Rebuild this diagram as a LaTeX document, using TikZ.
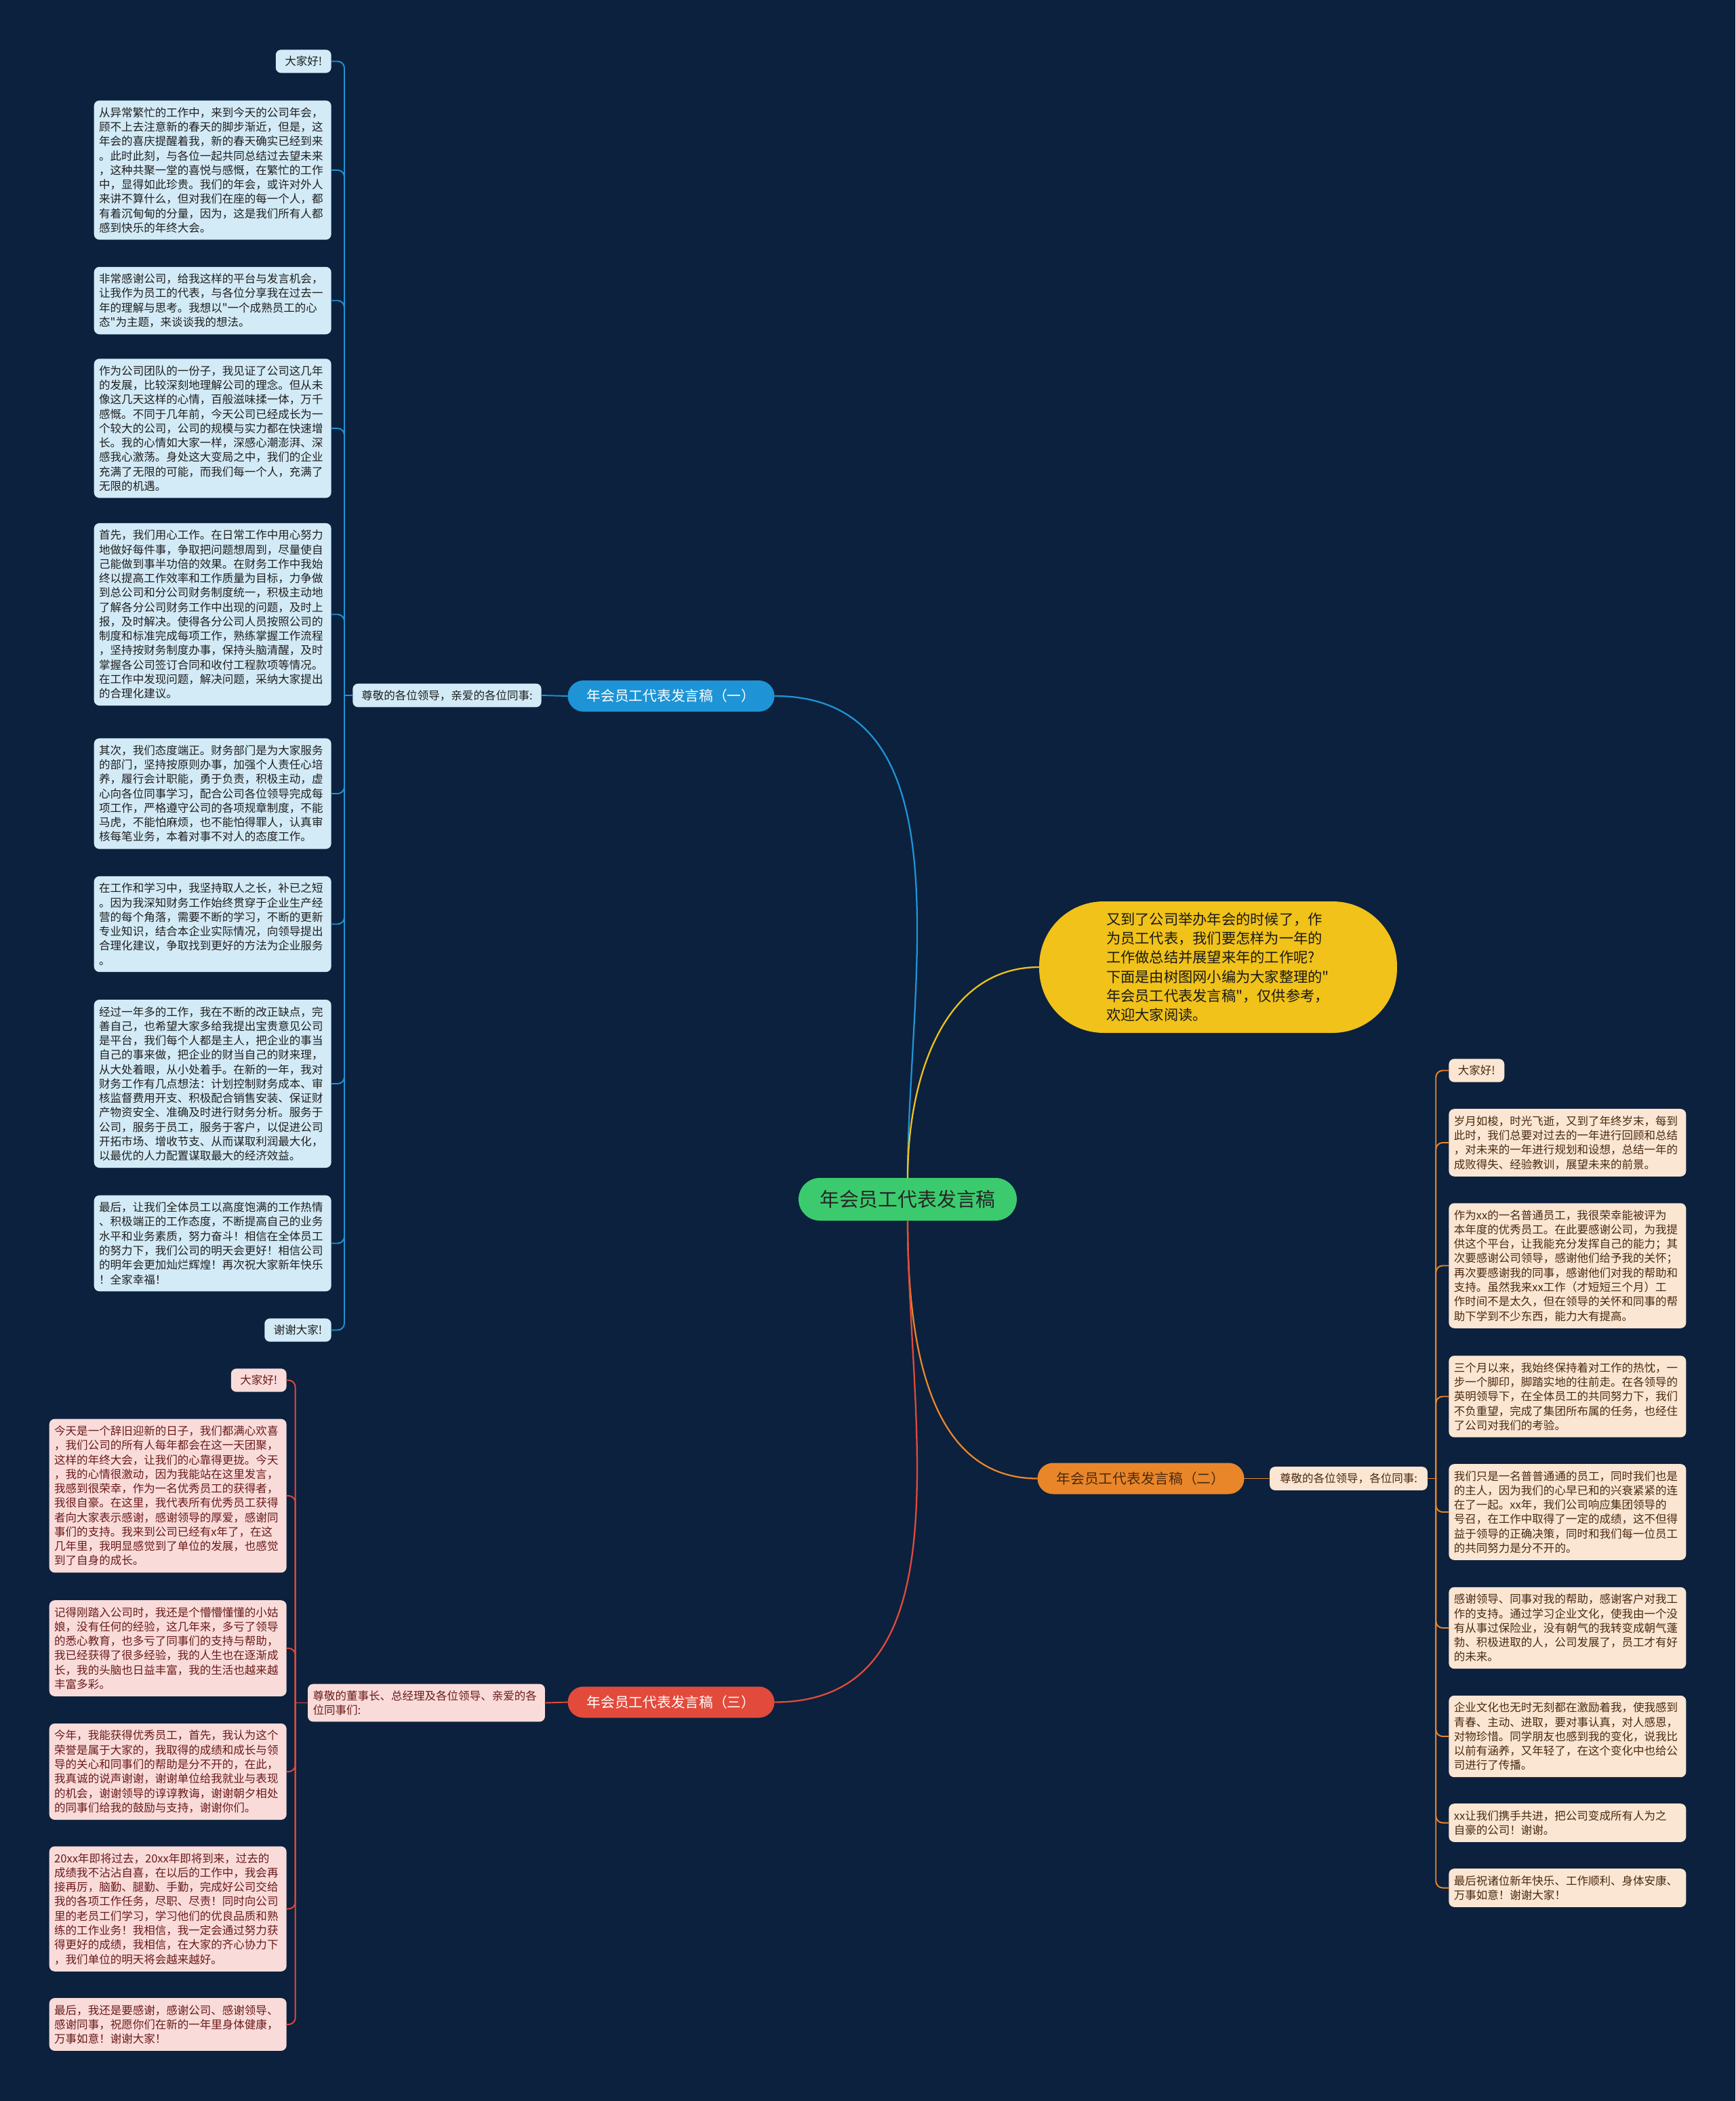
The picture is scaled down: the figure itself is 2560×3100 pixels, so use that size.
\documentclass[tikz,border=0pt]{standalone}
\usepackage{fontspec}
\setmainfont{Noto Sans CJK SC}[Ligatures=TeXOff]
\definecolor{bgc}{HTML}{0C213D}
\definecolor{bluebr}{HTML}{1E94D6}
\definecolor{bluebox}{HTML}{D3EBF7}
\definecolor{yel}{HTML}{F0C21A}
\definecolor{orgbr}{HTML}{E9862A}
\definecolor{orgbox}{HTML}{FBE6D3}
\definecolor{orgtxt}{HTML}{4A2A10}
\definecolor{redbr}{HTML}{E24A3B}
\definecolor{redbox}{HTML}{F9DCDA}
\definecolor{redtxt}{HTML}{6A1A1A}
\definecolor{grn}{HTML}{3BCB6E}
\newcommand\leaffont{\fontsize{9.4}{12.1}\selectfont}
\tikzset{
  leaf/.style={rounded corners=1.6mm, text width=6.7cm, align=left, inner xsep=0.15cm, inner ysep=0.2cm, font=\leaffont},
  hello/.style={rounded corners=1.6mm, inner xsep=0.27cm, inner ysep=0.19cm, font=\leaffont},
  lbl/.style={rounded corners=1.6mm, inner xsep=0.26cm, inner ysep=0.19cm, font=\leaffont},
  branch/.style={rounded corners=0.46cm, minimum width=6.1cm, minimum height=0.92cm, font=\fontsize{11.8}{14}\selectfont},
  blueb/.style={fill=bluebox, text=black!88},
  orgb/.style={fill=orgbox, text=orgtxt},
  redb/.style={fill=redbox, text=redtxt},
  link/.style={line width=1.1pt}
}
\begin{document}
\begin{tikzpicture}[x=0.02cm, y=-0.02cm, line join=round, line cap=round]
\useasboundingbox (0,0) rectangle (2560,3100);
\fill[bgc] (0,0) rectangle (2560,3100);
% centre and main branches
\node[fill=grn, text=black!85, rounded corners=0.63cm, minimum width=6.44cm, minimum height=1.26cm, font=\fontsize{16.4}{19}\selectfont] (ctr) at (1339,1769.5) {年会员工代表发言稿};
\node[branch, fill=bluebr, text=white] (br1) at (990,1027) {年会员工代表发言稿（一）};
\node[branch, fill=orgbr, text=orgtxt] (br2) at (1683,2181.5) {年会员工代表发言稿（二）};
\node[branch, fill=redbr, text=white] (br3) at (990,2511.5) {年会员工代表发言稿（三）};
\node[fill=yel, text=black!90, rounded corners=1.9cm, minimum width=10.56cm, minimum height=3.88cm, text width=6.6cm, align=left, font=\fontsize{12.1}{16.1}\selectfont] (intro) at (1797,1427) {又到了公司举办年会的时候了，作\\为员工代表，我们要怎样为一年的\\工作做总结并展望来年的工作呢?\\下面是由树图网小编为大家整理的"\\年会员工代表发言稿"，仅供参考，\\欢迎大家阅读。};
\draw[link, line width=1.3pt, bluebr] (ctr.north) to[out=90, in=0] (br1.east);
\draw[link, line width=1.3pt, yel] (ctr.north) to[out=90, in=180] (intro.west);
\draw[link, line width=1.3pt, orgbr] (ctr.south) to[out=-90, in=180] (br2.west);
\draw[link, line width=1.3pt, redbr] (ctr.south) to[out=-90, in=0] (br3.east);
% branch one
\node[lbl, blueb] (lbl1) at (659.5,1026) {尊敬的各位领导，亲爱的各位同事:};
\node[hello, blueb, anchor=east] (hi1) at (489,90.5) {大家好!};
\node[leaf, blueb, anchor=east] (a1) at (489,251) {从异常繁忙的工作中，来到今天的公司年会，\\顾不上去注意新的春天的脚步渐近，但是，这\\年会的喜庆提醒着我，新的春天确实已经到来\\。此时此刻，与各位一起共同总结过去望未来\\，这种共聚一堂的喜悦与感慨，在繁忙的工作\\中，显得如此珍贵。我们的年会，或许对外人\\来讲不算什么，但对我们在座的每一个人，都\\有着沉甸甸的分量，因为，这是我们所有人都\\感到快乐的年终大会。};
\node[leaf, blueb, anchor=east] (a2) at (489,443.5) {非常感谢公司，给我这样的平台与发言机会，\\让我作为员工的代表，与各位分享我在过去一\\年的理解与思考。我想以"一个成熟员工的心\\态"为主题，来谈谈我的想法。};
\node[leaf, blueb, anchor=east] (a3) at (489,632) {作为公司团队的一份子，我见证了公司这几年\\的发展，比较深刻地理解公司的理念。但从未\\像这几天这样的心情，百般滋味揉一体，万千\\感慨。不同于几年前，今天公司已经成长为一\\个较大的公司，公司的规模与实力都在快速增\\长。我的心情如大家一样，深感心潮澎湃、深\\感我心激荡。身处这大变局之中，我们的企业\\充满了无限的可能，而我们每一个人，充满了\\无限的机遇。};
\node[leaf, blueb, anchor=east] (a4) at (489,906.5) {首先，我们用心工作。在日常工作中用心努力\\地做好每件事，争取把问题想周到，尽量使自\\己能做到事半功倍的效果。在财务工作中我始\\终以提高工作效率和工作质量为目标，力争做\\到总公司和分公司财务制度统一，积极主动地\\了解各分公司财务工作中出现的问题，及时上\\报，及时解决。使得各分公司人员按照公司的\\制度和标准完成每项工作，熟练掌握工作流程\\，坚持按财务制度办事，保持头脑清醒，及时\\掌握各公司签订合同和收付工程款项等情况。\\在工作中发现问题，解决问题，采纳大家提出\\的合理化建议。};
\node[leaf, blueb, anchor=east] (a5) at (489,1171) {其次，我们态度端正。财务部门是为大家服务\\的部门，坚持按原则办事，加强个人责任心培\\养，履行会计职能，勇于负责，积极主动，虚\\心向各位同事学习，配合公司各位领导完成每\\项工作，严格遵守公司的各项规章制度，不能\\马虎，不能怕麻烦，也不能怕得罪人，认真审\\核每笔业务，本着对事不对人的态度工作。};
\node[leaf, blueb, anchor=east] (a6) at (489,1363.5) {在工作和学习中，我坚持取人之长，补已之短\\。因为我深知财务工作始终贯穿于企业生产经\\营的每个角落，需要不断的学习，不断的更新\\专业知识，结合本企业实际情况，向领导提出\\合理化建议，争取找到更好的方法为企业服务\\。};
\node[leaf, blueb, anchor=east] (a7) at (489,1599) {经过一年多的工作，我在不断的改正缺点，完\\善自己，也希望大家多给我提出宝贵意见公司\\是平台，我们每个人都是主人，把企业的事当\\自己的事来做，把企业的财当自己的财来理，\\从大处着眼，从小处着手。在新的一年，我对\\财务工作有几点想法：计划控制财务成本、审\\核监督费用开支、积极配合销售安装、保证财\\产物资安全、准确及时进行财务分析。服务于\\公司，服务于员工，服务于客户，以促进公司\\开拓市场、增收节支、从而谋取利润最大化，\\以最优的人力配置谋取最大的经济效益。};
\node[leaf, blueb, anchor=east] (a8) at (489,1834.5) {最后，让我们全体员工以高度饱满的工作热情\\、积极端正的工作态度，不断提高自己的业务\\水平和业务素质，努力奋斗！相信在全体员工\\的努力下，我们公司的明天会更好！相信公司\\的明年会更加灿烂辉煌！再次祝大家新年快乐\\！全家幸福！};
\node[hello, blueb, anchor=east] (bye1) at (489,1962.5) {谢谢大家!};
\coordinate (k1) at ([xshift=-0.24cm]lbl1.west);
\draw[link, bluebr] (br1.west) -- (lbl1.east);
\draw[link, bluebr] (lbl1.west) -- (k1);
\foreach \n in {hi1,a1,a2,a3,a4,a5,a6,a7,a8,bye1}
  \draw[link, bluebr, rounded corners=0.2cm] (k1) |- (\n.east);
% branch two
\node[lbl, orgb, inner xsep=0.3cm] (lbl2) at (1989.5,2181.5) {尊敬的各位领导，各位同事:};
\node[hello, orgb, anchor=west] (hi2) at (2137,1579.5) {大家好!};
\node[leaf, orgb, anchor=west] (b1) at (2137,1686) {岁月如梭，时光飞逝，又到了年终岁末，每到\\此时，我们总要对过去的一年进行回顾和总结\\，对未来的一年进行规划和设想，总结一年的\\成败得失、经验教训，展望未来的前景。};
\node[leaf, orgb, anchor=west] (b2) at (2137,1867.5) {作为xx的一名普通员工，我很荣幸能被评为\\本年度的优秀员工。在此要感谢公司，为我提\\供这个平台，让我能充分发挥自己的能力；其\\次要感谢公司领导，感谢他们给予我的关怀；\\再次要感谢我的同事，感谢他们对我的帮助和\\支持。虽然我来xx工作（才短短三个月）工\\作时间不是太久，但在领导的关怀和同事的帮\\助下学到不少东西，能力大有提高。};
\node[leaf, orgb, anchor=west] (b3) at (2137,2060.5) {三个月以来，我始终保持着对工作的热忱，一\\步一个脚印，脚踏实地的往前走。在各领导的\\英明领导下，在全体员工的共同努力下，我们\\不负重望，完成了集团所布属的任务，也经住\\了公司对我们的考验。};
\node[leaf, orgb, anchor=west] (b4) at (2137,2231) {我们只是一名普普通通的员工，同时我们也是\\的主人，因为我们的心早已和的兴衰紧紧的连\\在了一起。xx年，我们公司响应集团领导的\\号召，在工作中取得了一定的成绩，这不但得\\益于领导的正确决策，同时和我们每一位员工\\的共同努力是分不开的。};
\node[leaf, orgb, anchor=west] (b5) at (2137,2402) {感谢领导、同事对我的帮助，感谢客户对我工\\作的支持。通过学习企业文化，使我由一个没\\有从事过保险业，没有朝气的我转变成朝气蓬\\勃、积极进取的人，公司发展了，员工才有好\\的未来。};
\node[leaf, orgb, anchor=west] (b6) at (2137,2562) {企业文化也无时无刻都在激励着我，使我感到\\青春、主动、进取，要对事认真，对人感恩，\\对物珍惜。同学朋友也感到我的变化，说我比\\以前有涵养，又年轻了，在这个变化中也给公\\司进行了传播。};
\node[leaf, orgb, anchor=west] (b7) at (2137,2689.5) {xx让我们携手共进，把公司变成所有人为之\\自豪的公司！谢谢。};
\node[leaf, orgb, anchor=west] (b8) at (2137,2785.5) {最后祝诸位新年快乐、工作顺利、身体安康、\\万事如意！谢谢大家！};
\coordinate (k2) at ([xshift=0.24cm]lbl2.east);
\draw[link, orgbr] (br2.east) -- (lbl2.west);
\draw[link, orgbr] (lbl2.east) -- (k2);
\foreach \n in {hi2,b1,b2,b3,b4,b5,b6,b7,b8}
  \draw[link, orgbr, rounded corners=0.2cm] (k2) |- (\n.west);
% branch three
\node[lbl, redb, text width=6.7cm, align=left, inner xsep=0.15cm] (lbl3) at (629,2512.5) {尊敬的董事长、总经理及各位领导、亲爱的各\\位同事们:};
\node[hello, redb, anchor=east] (hi3) at (423,2036.5) {大家好!};
\node[leaf, redb, anchor=east] (c1) at (423,2207) {今天是一个辞旧迎新的日子，我们都满心欢喜\\，我们公司的所有人每年都会在这一天团聚，\\这样的年终大会，让我们的心靠得更拢。今天\\，我的心情很激动，因为我能站在这里发言，\\我感到很荣幸，作为一名优秀员工的获得者，\\我很自豪。在这里，我代表所有优秀员工获得\\者向大家表示感谢，感谢领导的厚爱，感谢同\\事们的支持。我来到公司已经有x年了，在这\\几年里，我明显感觉到了单位的发展，也感觉\\到了自身的成长。};
\node[leaf, redb, anchor=east] (c2) at (423,2432) {记得刚踏入公司时，我还是个懵懵懂懂的小姑\\娘，没有任何的经验，这几年来，多亏了领导\\的悉心教育，也多亏了同事们的支持与帮助，\\我已经获得了很多经验，我的人生也在逐渐成\\长，我的头脑也日益丰富，我的生活也越来越\\丰富多彩。};
\node[leaf, redb, anchor=east] (c3) at (423,2614) {今年，我能获得优秀员工，首先，我认为这个\\荣誉是属于大家的，我取得的成绩和成长与领\\导的关心和同事们的帮助是分不开的，在此，\\我真诚的说声谢谢，谢谢单位给我就业与表现\\的机会，谢谢领导的谆谆教诲，谢谢朝夕相处\\的同事们给我的鼓励与支持，谢谢你们。};
\node[leaf, redb, anchor=east] (c4) at (423,2816.5) {20xx年即将过去，20xx年即将到来，过去的\\成绩我不沾沾自喜，在以后的工作中，我会再\\接再厉，脑勤、腿勤、手勤，完成好公司交给\\我的各项工作任务，尽职、尽责！同时向公司\\里的老员工们学习，学习他们的优良品质和熟\\练的工作业务！我相信，我一定会通过努力获\\得更好的成绩，我相信，在大家的齐心协力下\\，我们单位的明天将会越来越好。};
\node[leaf, redb, anchor=east] (c5) at (423,2987) {最后，我还是要感谢，感谢公司、感谢领导、\\感谢同事，祝愿你们在新的一年里身体健康，\\万事如意！谢谢大家！};
\coordinate (k3) at ([xshift=-0.36cm]lbl3.west);
\draw[link, redbr] (br3.west) -- (lbl3.east);
\draw[link, redbr] (lbl3.west) -- (k3);
\foreach \n in {hi3,c1,c2,c3,c4,c5}
  \draw[link, redbr, rounded corners=0.2cm] (k3) |- (\n.east);
\end{tikzpicture}
\end{document}
